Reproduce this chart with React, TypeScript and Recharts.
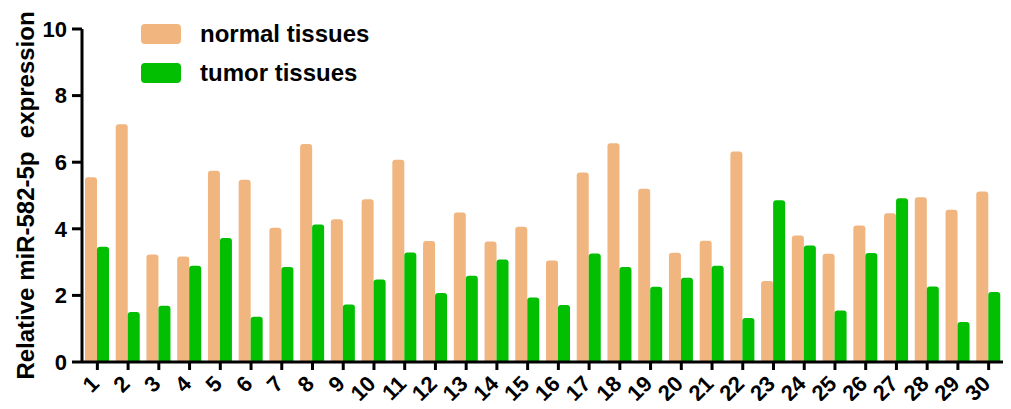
import React from 'react'
import { BarChart, Bar, XAxis, YAxis, Legend } from 'recharts'

const samples = [
  '1', '2', '3', '4', '5', '6', '7', '8', '9', '10',
  '11', '12', '13', '14', '15', '16', '17', '18', '19', '20',
  '21', '22', '23', '24', '25', '26', '27', '28', '29', '30',
]
const normalTissues = [
  5.55, 7.14, 3.23, 3.17, 5.74, 5.47, 4.03, 6.55, 4.29, 4.89,
  6.07, 3.63, 4.49, 3.62, 4.06, 3.05, 5.69, 6.57, 5.2, 3.28,
  3.64, 6.32, 2.43, 3.8, 3.25, 4.1, 4.47, 4.95, 4.57, 5.12,
]
const tumorTissues = [
  3.46, 1.5, 1.69, 2.89, 3.72, 1.36, 2.85, 4.13, 1.73, 2.48,
  3.29, 2.07, 2.59, 3.08, 1.94, 1.71, 3.26, 2.85, 2.26, 2.53,
  2.89, 1.32, 4.86, 3.5, 1.55, 3.27, 4.92, 2.27, 1.2, 2.1,
]
const yTicks = [0, 2, 4, 6, 8, 10]

const data = samples.map((name, i) => ({
  name,
  normal: normalTissues[i],
  tumor: tumorTissues[i],
}))

const font = '"Liberation Sans", Arial, sans-serif'

const XTick = (props: any) => {
  const { x, y, payload } = props
  return (
    <g transform={`translate(${x + 3},${y + 13})`}>
      <text
        x={0}
        y={0}
        textAnchor="end"
        transform="rotate(-45)"
        fontFamily={font}
        fontWeight="bold"
        fontSize={22}
        fill="#000"
      >
        {payload.value}
      </text>
    </g>
  )
}

const LegendBox = (props: any) => {
  const { payload } = props
  return (
    <div style={{ fontFamily: font }}>
      {(payload || []).map((p: any) => (
        <div key={p.value} style={{ display: 'flex', alignItems: 'center', height: 39 }}>
          <div
            style={{ width: 40, height: 20, borderRadius: 4, background: p.color, marginRight: 19 }}
          />
          <span style={{ fontSize: 24, fontWeight: 'bold', color: '#000' }}>{p.value}</span>
        </div>
      ))}
    </div>
  )
}

export default function App() {
  return (
    <div style={{ margin: -8, background: '#fff', width: 1011, height: 409 }}>
      <BarChart
        width={1011}
        height={409}
        data={data}
        margin={{ top: 29, right: 7, bottom: 7, left: 0 }}
        barGap={0}
        barSize={12}
      >
        <XAxis
          dataKey="name"
          interval={0}
          height={40}
          axisLine={{ stroke: '#000', strokeWidth: 3 }}
          tickLine={{ stroke: '#000', strokeWidth: 3 }}
          tickSize={8}
          tick={<XTick />}
        />
        <YAxis
          width={82}
          domain={[0, 10]}
          ticks={yTicks}
          interval={0}
          axisLine={{ stroke: '#000', strokeWidth: 3 }}
          tickLine={{ stroke: '#000', strokeWidth: 3 }}
          tickSize={10}
          tick={{ fontFamily: font, fontWeight: 'bold', fontSize: 22, fill: '#000', dx: -3 }}
          label={{
            value: 'Relative miR-582-5p\u00a0 expression',
            angle: -90,
            position: 'insideLeft',
            offset: 25,
            style: {
              textAnchor: 'middle',
              fontFamily: font,
              fontWeight: 'bold',
              fontSize: 24,
              fill: '#000',
            },
          }}
        />
        <Legend
          layout="horizontal"
          verticalAlign="middle"
          align="center"
          wrapperStyle={{ top: 14, left: 141, width: 300 }}
          content={<LegendBox />}
        />
        <Bar
          dataKey="normal"
          name="normal tissues"
          fill="#F1B57F"
          radius={[3, 3, 0, 0]}
          isAnimationActive={false}
        />
        <Bar
          dataKey="tumor"
          name="tumor tissues"
          fill="#02BF02"
          radius={[3, 3, 0, 0]}
          isAnimationActive={false}
        />
      </BarChart>
    </div>
  )
}
